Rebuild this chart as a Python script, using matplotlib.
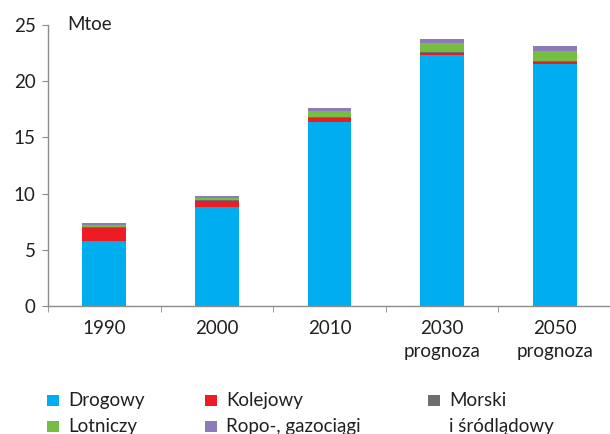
import numpy as np
import matplotlib
matplotlib.use('Agg')
from matplotlib import pyplot as plt
from matplotlib.patches import Rectangle
from matplotlib.ticker import FixedLocator

plt.rcParams['font.family'] = ['Lato', 'DejaVu Sans']

# energy use in transport by mode, Mtoe
years = ['1990', '2000', '2010', '2030\nprognoza', '2050\nprognoza']
drogowy = [5.78, 8.81, 16.34, 22.33, 21.56]
kolejowy = [1.16, 0.53, 0.39, 0.21, 0.18]
morski = [0.05, 0.05, 0.05, 0.05, 0.05]
lotniczy = [0.21, 0.19, 0.57, 0.78, 0.93]
rurociagi = [0.18, 0.23, 0.24, 0.38, 0.44]

series = [
    ('Drogowy', drogowy, '#00aeef'),
    ('Kolejowy', kolejowy, '#ed1c24'),
    ('Morski\ni śródlądowy', morski, '#6d6e71'),
    ('Lotniczy', lotniczy, '#76bd43'),
    ('Ropo-, gazociągi', rurociagi, '#8d7ab8'),
]

text_col = '#231f20'
axis_col = '#8c8c8c'
fs = 13.5

fig = plt.figure(figsize=(6.10, 4.34), dpi=100)
ax = fig.add_axes([48 / 610, 1 - 306 / 434, 563 / 610, 281 / 434])

x = np.arange(len(years))
bottom = np.zeros(len(years))
for name, vals, col in series:
    ax.bar(x, vals, width=0.39, bottom=bottom, color=col, edgecolor='none')
    bottom += np.array(vals)

ax.set_xlim(-0.5, len(years) - 0.5)
ax.set_ylim(0, 25)
ax.set_yticks(np.arange(0, 26, 5))
ax.set_xticks(x)
ax.set_xticklabels(years, linespacing=1.42)
ax.xaxis.set_minor_locator(FixedLocator(np.arange(-0.5, len(years), 1.0)))

for s in ['top', 'right']:
    ax.spines[s].set_visible(False)
for s in ['left', 'bottom']:
    ax.spines[s].set_color(axis_col)
    ax.spines[s].set_linewidth(1.0)

ax.tick_params(axis='x', which='major', length=0, pad=10, labelsize=fs, labelcolor=text_col)
ax.tick_params(axis='x', which='minor', length=4, color=axis_col, direction='out')
ax.tick_params(axis='y', length=4, color=axis_col, pad=5, labelsize=fs, labelcolor=text_col)

ax.text(0.034, 1.0, 'Mtoe', transform=ax.transAxes, va='center', ha='left',
        fontsize=fs, color=text_col)

# legend laid out by hand: three columns, two rows (pixel positions of baselines)
slots = [(47, 406), (47, 432), (205, 406), (205, 432), (428, 406)]
order = [0, 3, 1, 4, 2]
row_step = 26
for (px, py), i in zip(slots, order):
    name, vals, col = series[i]
    fig.add_artist(Rectangle((px / 610, 1 - py / 434), 12 / 610, 11 / 434,
                             transform=fig.transFigure, color=col, lw=0))
    for k, line in enumerate(name.split('\n')):
        fig.text((px + 21) / 610, 1 - (py + k * row_step) / 434, line,
                 va='baseline', ha='left', fontsize=fs, color=text_col)

fig.savefig('out.png', dpi=100)
